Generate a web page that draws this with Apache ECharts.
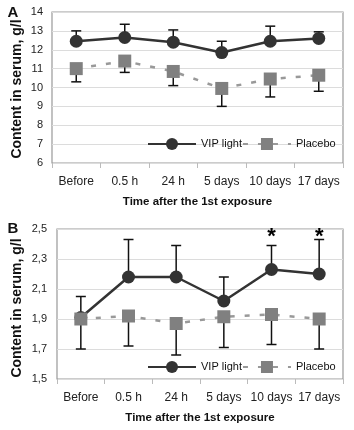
<!DOCTYPE html>
<html>
<head>
<meta charset="UTF-8">
<title>VIP light - serum content</title>
<script src="https://cdn.jsdelivr.net/npm/echarts@6/dist/echarts.min.js"></script>
<style>html,body{margin:0;padding:0;background:#fff;}</style>
</head>
<body>
<div id="chart" style="width:354px; height:430px;"></div>
<script>
var categories = ['Before', '0.5 h', '24 h', '5 days', '10 days', '17 days'];

// panel A
var vipA = [12.45, 12.65, 12.4, 11.85, 12.45, 12.6];
var vipErrA = [0.55, 0.7, 0.65, 0.6, 0.8, 0.35];
var placeboA = [11.0, 11.4, 10.85, 9.95, 10.45, 10.65];
var placeboErrA = [0.7, 0.6, 0.75, 0.95, 0.95, 0.85];
var ticksA = [6, 7, 8, 9, 10, 11, 12, 13, 14];

// panel B
var vipB = [1.91, 2.18, 2.18, 2.02, 2.23, 2.2];
var vipErrB = [0.14, 0.25, 0.21, 0.16, 0.16, 0.23];
var placeboB = [1.9, 1.92, 1.87, 1.915, 1.93, 1.9];
var placeboErrB = [0.2, 0.2, 0.21, 0.205, 0.2, 0.2];
var signifB = [0, 0, 0, 0, 1, 1];
var ticksB = [1.5, 1.7, 1.9, 2.1, 2.3, 2.5];

var yTitle = 'Content in serum, g/l';
var xTitle = 'Time after the 1st exposure';

var FONT = 'Liberation Sans, Arial, sans-serif';

var chart = echarts.init(document.getElementById('chart'), null, {renderer: 'canvas'});

function errorBars(idx, means, errs, dir) {
    return {
        type: 'custom',
        xAxisIndex: idx,
        yAxisIndex: idx,
        z: 1,
        silent: true,
        encode: {x: 0, y: [1, 2]},
        data: means.map(function (m, i) { return [i, m, m + dir * errs[i]]; }),
        renderItem: function (params, api) {
            var p0 = api.coord([api.value(0), api.value(1)]);
            var p1 = api.coord([api.value(0), api.value(2)]);
            var st = {stroke: '#111', lineWidth: 1.5};
            return {
                type: 'group',
                children: [
                    {type: 'line', shape: {x1: p0[0], y1: p0[1], x2: p1[0], y2: p1[1]}, style: st},
                    {type: 'line', shape: {x1: p1[0] - 5, y1: p1[1], x2: p1[0] + 5, y2: p1[1]}, style: st}
                ]
            };
        }
    };
}

function vipLine(idx, data) {
    return {
        name: 'VIP light', type: 'line', xAxisIndex: idx, yAxisIndex: idx, z: 3,
        data: data, symbol: 'circle', symbolSize: 13,
        itemStyle: {color: '#333'},
        lineStyle: {color: '#333', width: 2.5}
    };
}

function placeboLine(idx, data) {
    return {
        name: 'Placebo', type: 'line', xAxisIndex: idx, yAxisIndex: idx, z: 4,
        data: data, symbol: 'rect', symbolSize: 13,
        itemStyle: {color: '#808080'},
        lineStyle: {color: '#999', width: 2.5, type: [5, 10]}
    };
}

function xAxisFor(idx) {
    return {
        type: 'category', gridIndex: idx, data: categories,
        axisLine: {show: false},
        axisTick: {show: true, length: 5, lineStyle: {color: '#bbb'}},
        axisLabel: {interval: 0, fontSize: 12, margin: 13, color: '#222', fontFamily: FONT},
        name: xTitle, nameLocation: 'middle', nameGap: 33,
        nameTextStyle: {fontWeight: 'bold', fontSize: 11.5, color: '#111', fontFamily: FONT}
    };
}

function legendFor(top) {
    return {
        data: ['VIP light', 'Placebo'], left: 147, top: top, padding: 0,
        itemWidth: 48, itemHeight: 15, itemGap: 0, selectedMode: false,
        textStyle: {fontSize: 11, color: '#111', fontFamily: FONT}
    };
}

function label(text, x, y, size, rot) {
    return {
        type: 'text', x: x, y: y, rotation: rot || 0,
        style: {text: text, font: 'bold ' + size + 'px ' + FONT, fill: '#111', align: 'center', verticalAlign: 'middle'}
    };
}

var option = {
    animation: false,
    textStyle: {fontFamily: FONT},
    grid: [
        {left: 52, right: 11, top: 12, height: 151, show: true, borderColor: '#999', borderWidth: 1.2},
        {left: 57, right: 11, top: 229, height: 150, show: true, borderColor: '#999', borderWidth: 1.2}
    ],
    graphic: [
        label('A', 13, 13, 15),
        label('B', 13, 229, 15),
        label(yTitle, 17, 89, 14, Math.PI / 2),
        label(yTitle, 17, 308, 14, Math.PI / 2)
    ],
    legend: [legendFor(138), legendFor(361)],
    xAxis: [xAxisFor(0), xAxisFor(1)],
    yAxis: [
        {
            type: 'value', gridIndex: 0,
            min: ticksA[0], max: ticksA[ticksA.length - 1], interval: ticksA[1] - ticksA[0],
            axisLine: {show: false}, axisTick: {show: false},
            axisLabel: {fontSize: 11, margin: 9, color: '#222'},
            splitLine: {lineStyle: {color: '#dcdcdc'}}
        },
        {
            // half step so min stays a multiple of the interval; every other line/label hidden
            type: 'value', gridIndex: 1,
            min: ticksB[0], max: ticksB[ticksB.length - 1], interval: (ticksB[1] - ticksB[0]) / 2,
            axisLine: {show: false}, axisTick: {show: false},
            axisLabel: {
                fontSize: 11, margin: 10, color: '#222',
                formatter: function (v) {
                    var shown = ticksB.some(function (t) { return Math.abs(t - v) < 1e-6; });
                    return shown ? v.toFixed(1).replace('.', ',') : '';
                }
            },
            splitLine: {lineStyle: {color: ['#dcdcdc', 'rgba(0,0,0,0)']}}
        }
    ],
    series: [
        errorBars(0, vipA, vipErrA, 1),
        errorBars(0, placeboA, placeboErrA, -1),
        vipLine(0, vipA),
        placeboLine(0, placeboA),
        errorBars(1, vipB, vipErrB, 1),
        errorBars(1, placeboB, placeboErrB, -1),
        vipLine(1, vipB),
        placeboLine(1, placeboB),
        {
            type: 'custom', xAxisIndex: 1, yAxisIndex: 1, z: 5, silent: true,
            encode: {x: 0, y: 1},
            data: signifB.map(function (s, i) { return [i, ticksB[ticksB.length - 1], s]; })
                .filter(function (d) { return d[2]; }),
            renderItem: function (params, api) {
                var p = api.coord([api.value(0), api.value(1)]);
                return {
                    type: 'text', x: p[0], y: p[1] + 8,
                    style: {text: '*', font: 'bold 22px ' + FONT, fill: '#000', align: 'center', verticalAlign: 'middle'}
                };
            }
        }
    ]
};

chart.setOption(option);
</script>
</body>
</html>
